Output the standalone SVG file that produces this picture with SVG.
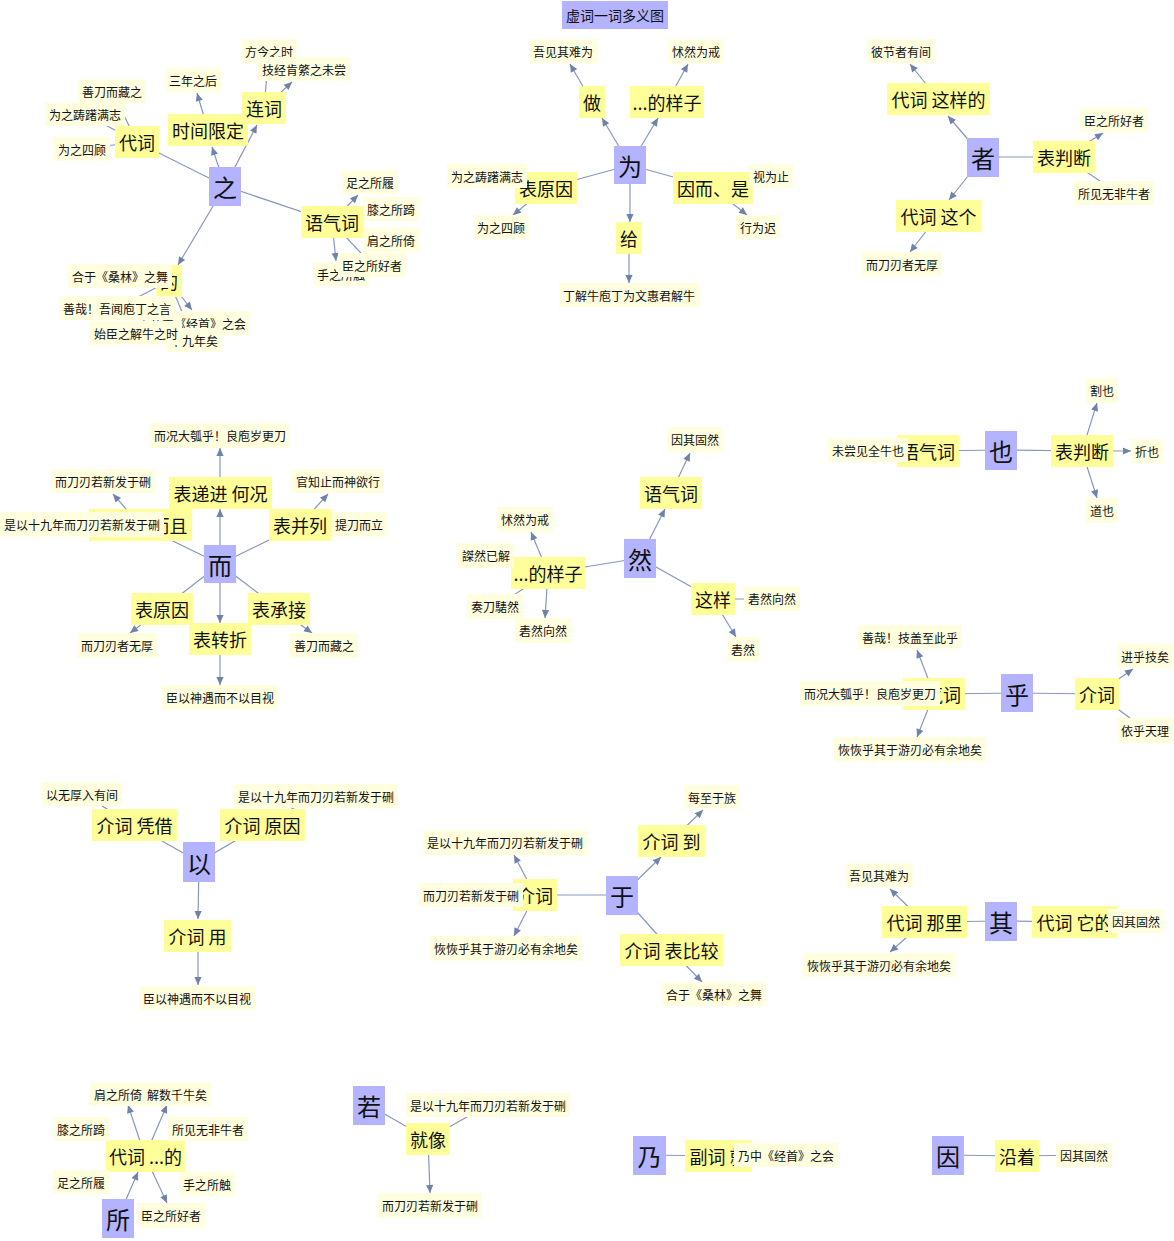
<svg xmlns="http://www.w3.org/2000/svg" width="1174" height="1241" viewBox="0 0 1174 1241">
<style>
text{font-family:"Noto Sans CJK SC","Noto Sans",sans-serif;fill:#111;text-anchor:middle;dominant-baseline:central}
.r rect,.t rect{fill:#b3b3ff}
.r text{font-size:24px}
.t text{font-size:14px}
.m rect{fill:#ffff99}
.m text{font-size:18px}
.l rect{fill:#ffffe0}
.l text{font-size:12px}
#edges line{stroke:#8797bd;stroke-width:1.2}
#edges .a{marker-end:url(#ar)}
</style>
<defs><marker id="ar" viewBox="0 0 10 10" refX="10" refY="5" markerWidth="9" markerHeight="8" markerUnits="userSpaceOnUse" orient="auto"><path d="M0,0.5L10,5L0,9.5z" fill="#6f82a8"/></marker></defs>
<rect width="1174" height="1241" fill="#fff"/>
<g id="edges">
<line x1="225" y1="186" x2="137" y2="142"/>
<line class="a" x1="225" y1="186" x2="212" y2="147"/>
<line class="a" x1="225" y1="186" x2="257" y2="125"/>
<line x1="225" y1="186" x2="332" y2="222"/>
<line class="a" x1="225" y1="186" x2="178" y2="265"/>
<line x1="264" y1="108" x2="269" y2="51"/>
<line class="a" x1="264" y1="108" x2="292" y2="82"/>
<line class="a" x1="208" y1="130" x2="197" y2="93"/>
<line x1="137" y1="142" x2="112" y2="91"/>
<line x1="137" y1="142" x2="85" y2="114"/>
<line x1="137" y1="142" x2="82" y2="149"/>
<line class="a" x1="332" y1="222" x2="358" y2="195"/>
<line x1="332" y1="222" x2="391" y2="209"/>
<line x1="332" y1="222" x2="391" y2="240"/>
<line x1="332" y1="222" x2="372" y2="265"/>
<line class="a" x1="332" y1="222" x2="336" y2="261"/>
<line x1="169" y1="281" x2="120" y2="276"/>
<line x1="169" y1="281" x2="117" y2="308"/>
<line x1="169" y1="281" x2="136" y2="333"/>
<line class="a" x1="169" y1="281" x2="192" y2="310"/>
<line x1="169" y1="281" x2="194" y2="340"/>

<line class="a" x1="630" y1="165" x2="602" y2="118"/>
<line class="a" x1="630" y1="165" x2="658" y2="118"/>
<line x1="630" y1="165" x2="546" y2="188"/>
<line x1="630" y1="165" x2="713" y2="188"/>
<line class="a" x1="630" y1="165" x2="630" y2="222"/>
<line class="a" x1="592" y1="102" x2="570" y2="64"/>
<line class="a" x1="667" y1="102" x2="688" y2="64"/>
<line x1="546" y1="188" x2="487" y2="176"/>
<line class="a" x1="546" y1="188" x2="513" y2="215"/>
<line x1="713" y1="188" x2="771" y2="176"/>
<line class="a" x1="713" y1="188" x2="747" y2="215"/>
<line class="a" x1="629" y1="238" x2="629" y2="283"/>

<line class="a" x1="983" y1="157" x2="948" y2="116"/>
<line x1="983" y1="157" x2="1064" y2="157"/>
<line class="a" x1="983" y1="157" x2="949" y2="200"/>
<line class="a" x1="938" y1="99" x2="910" y2="64"/>
<line class="a" x1="1064" y1="157" x2="1103" y2="133"/>
<line x1="1064" y1="157" x2="1100" y2="181"/>
<line class="a" x1="938" y1="216" x2="910" y2="252"/>

<line class="a" x1="220" y1="564" x2="220" y2="509"/>
<line class="a" x1="220" y1="493" x2="220" y2="448"/>
<line x1="220" y1="564" x2="140" y2="525"/>
<line class="a" x1="140" y1="525" x2="113" y2="494"/>
<line x1="140" y1="525" x2="82" y2="524"/>
<line x1="220" y1="564" x2="300" y2="525"/>
<line class="a" x1="300" y1="525" x2="328" y2="494"/>
<line x1="300" y1="525" x2="359" y2="524"/>
<line x1="220" y1="564" x2="162" y2="609"/>
<line class="a" x1="162" y1="609" x2="130" y2="633"/>
<line x1="220" y1="564" x2="279" y2="609"/>
<line class="a" x1="279" y1="609" x2="312" y2="633"/>
<line class="a" x1="220" y1="564" x2="220" y2="623"/>
<line class="a" x1="220" y1="639" x2="220" y2="685"/>

<line class="a" x1="640" y1="558" x2="665" y2="509"/>
<line class="a" x1="671" y1="493" x2="690" y2="453"/>
<line x1="640" y1="558" x2="548" y2="573"/>
<line class="a" x1="548" y1="573" x2="531" y2="532"/>
<line x1="548" y1="573" x2="486" y2="556"/>
<line x1="548" y1="573" x2="495" y2="607"/>
<line class="a" x1="548" y1="573" x2="545" y2="618"/>
<line x1="640" y1="558" x2="713" y2="599"/>
<line x1="713" y1="599" x2="772" y2="599"/>
<line class="a" x1="713" y1="599" x2="736" y2="637"/>

<line x1="1001" y1="450" x2="928" y2="451"/>
<line x1="1001" y1="450" x2="1082" y2="451"/>
<line x1="928" y1="451" x2="868" y2="450"/>
<line class="a" x1="1082" y1="451" x2="1097" y2="403"/>
<line class="a" x1="1082" y1="451" x2="1131" y2="451"/>
<line class="a" x1="1082" y1="451" x2="1097" y2="498"/>

<line x1="1017" y1="693" x2="934" y2="694"/>
<line x1="1017" y1="693" x2="1097" y2="694"/>
<line class="a" x1="934" y1="694" x2="917" y2="650"/>
<line class="a" x1="934" y1="694" x2="917" y2="737"/>
<line x1="934" y1="694" x2="870" y2="693"/>
<line class="a" x1="1097" y1="694" x2="1133" y2="669"/>
<line x1="1097" y1="694" x2="1130" y2="718"/>

<line x1="199" y1="862" x2="134" y2="825"/>
<line x1="199" y1="862" x2="262" y2="825"/>
<line x1="134" y1="825" x2="82" y2="794"/>
<line x1="262" y1="825" x2="316" y2="796"/>
<line class="a" x1="199" y1="862" x2="198" y2="919"/>
<line class="a" x1="198" y1="936" x2="198" y2="985"/>

<line x1="622" y1="895" x2="535" y2="895"/>
<line x1="535" y1="895" x2="471" y2="895"/>
<line class="a" x1="535" y1="895" x2="514" y2="855"/>
<line class="a" x1="535" y1="895" x2="514" y2="936"/>
<line class="a" x1="622" y1="895" x2="661" y2="857"/>
<line class="a" x1="671" y1="841" x2="703" y2="810"/>
<line x1="622" y1="895" x2="671" y2="950"/>
<line class="a" x1="671" y1="950" x2="702" y2="982"/>

<line x1="1001" y1="921" x2="924" y2="922"/>
<line x1="1001" y1="921" x2="1074" y2="922"/>
<line x1="1074" y1="922" x2="1136" y2="921"/>
<line class="a" x1="924" y1="922" x2="890" y2="889"/>
<line class="a" x1="924" y1="922" x2="890" y2="952"/>

<line class="a" x1="118" y1="1218" x2="138" y2="1172"/>
<line class="a" x1="145" y1="1156" x2="128" y2="1105"/>
<line class="a" x1="145" y1="1156" x2="167" y2="1105"/>
<line class="a" x1="145" y1="1156" x2="167" y2="1203"/>
<line x1="145" y1="1156" x2="81" y2="1129"/>
<line x1="145" y1="1156" x2="208" y2="1129"/>
<line x1="145" y1="1156" x2="81" y2="1182"/>
<line x1="145" y1="1156" x2="207" y2="1184"/>

<line x1="369" y1="1105" x2="428" y2="1139"/>
<line x1="428" y1="1139" x2="488" y2="1105"/>
<line class="a" x1="428" y1="1139" x2="430" y2="1193"/>

<line x1="649" y1="1155" x2="718" y2="1156"/>
<line x1="718" y1="1156" x2="786" y2="1155"/>
<line x1="948" y1="1155" x2="1017" y2="1156"/>
<line x1="1017" y1="1156" x2="1084" y2="1155"/>
</g>

<g id="nodes">
<g id="title" class="t"><rect x="562" y="1" width="106" height="28"/><text x="615" y="15">虚词一词多义图</text></g>

<!-- roots -->
<g id="r-zhi" class="r"><rect x="209" y="167" width="32" height="39"/><text x="225" y="186.5">之</text></g>
<g id="r-wei" class="r"><rect x="614" y="146" width="32" height="38"/><text x="630" y="165">为</text></g>
<g id="r-zhe" class="r"><rect x="967" y="138" width="32" height="39"/><text x="983" y="157.5">者</text></g>
<g id="r-er" class="r"><rect x="204" y="545" width="32" height="38"/><text x="220" y="564">而</text></g>
<g id="r-ran" class="r"><rect x="624" y="539" width="32" height="39"/><text x="640" y="558.5">然</text></g>
<g id="r-ye" class="r"><rect x="985" y="431" width="32" height="39"/><text x="1001" y="450.5">也</text></g>
<g id="r-hu" class="r"><rect x="1001" y="674" width="32" height="38"/><text x="1017" y="693">乎</text></g>
<g id="r-yi" class="r"><rect x="183" y="842" width="32" height="40"/><text x="199" y="862">以</text></g>
<g id="r-yu" class="r"><rect x="606" y="876" width="32" height="39"/><text x="622" y="895.5">于</text></g>
<g id="r-qi" class="r"><rect x="985" y="902" width="32" height="39"/><text x="1001" y="921.5">其</text></g>
<g id="r-suo" class="r"><rect x="102" y="1199" width="32" height="39"/><text x="118" y="1218.5">所</text></g>
<g id="r-ruo" class="r"><rect x="353" y="1086" width="32" height="39"/><text x="369" y="1105.5">若</text></g>
<g id="r-nai" class="r"><rect x="633" y="1136" width="33" height="39"/><text x="649.5" y="1155.5">乃</text></g>
<g id="r-yin" class="r"><rect x="932" y="1136" width="32" height="39"/><text x="948" y="1155.5">因</text></g>

<!-- mids -->
<g id="m-zhi-1" class="m"><rect x="115" y="126" width="44" height="32"/><text x="137" y="142">代词</text></g>
<g id="m-zhi-2" class="m"><rect x="168" y="114" width="80" height="32"/><text x="208" y="130">时间限定</text></g>
<g id="m-zhi-3" class="m"><rect x="242" y="92" width="44" height="32"/><text x="264" y="108">连词</text></g>
<g id="m-zhi-4" class="m"><rect x="301" y="206" width="62" height="32"/><text x="332" y="222">语气词</text></g>
<g id="m-zhi-5" class="m"><rect x="156" y="265" width="26" height="32"/><text x="169" y="281">的</text></g>

<g id="m-wei-1" class="m"><rect x="579" y="86" width="26" height="32"/><text x="592" y="102">做</text></g>
<g id="m-wei-2" class="m"><rect x="630" y="86" width="74" height="32"/><text x="667" y="102">...的样子</text></g>
<g id="m-wei-3" class="m"><rect x="515" y="172" width="62" height="32"/><text x="546" y="188">表原因</text></g>
<g id="m-wei-4" class="m"><rect x="673" y="172" width="80" height="32"/><text x="713" y="188">因而、是</text></g>
<g id="m-wei-5" class="m"><rect x="616" y="222" width="26" height="32"/><text x="629" y="238">给</text></g>

<g id="m-zhe-1" class="m"><rect x="887" y="83" width="103" height="32"/><text x="938.5" y="99">代词 这样的</text></g>
<g id="m-zhe-2" class="m"><rect x="1033" y="141" width="62" height="32"/><text x="1064" y="157">表判断</text></g>
<g id="m-zhe-3" class="m"><rect x="896" y="200" width="85" height="32"/><text x="938.5" y="216">代词 这个</text></g>

<g id="m-er-1" class="m"><rect x="169" y="477" width="103" height="32"/><text x="220.5" y="493">表递进 何况</text></g>
<g id="m-er-2" class="m"><rect x="89" y="509" width="103" height="32"/><text x="140.5" y="525">表递进 而且</text></g>
<g id="m-er-3" class="m"><rect x="269" y="509" width="62" height="32"/><text x="300" y="525">表并列</text></g>
<g id="m-er-4" class="m"><rect x="131" y="593" width="62" height="32"/><text x="162" y="609">表原因</text></g>
<g id="m-er-5" class="m"><rect x="248" y="593" width="62" height="32"/><text x="279" y="609">表承接</text></g>
<g id="m-er-6" class="m"><rect x="189" y="623" width="62" height="32"/><text x="220" y="639">表转折</text></g>

<g id="m-ran-1" class="m"><rect x="640" y="477" width="62" height="32"/><text x="671" y="493">语气词</text></g>
<g id="m-ran-2" class="m"><rect x="511" y="557" width="74" height="32"/><text x="548" y="573">...的样子</text></g>
<g id="m-ran-3" class="m"><rect x="691" y="583" width="44" height="32"/><text x="713" y="599">这样</text></g>

<g id="m-ye-1" class="m"><rect x="897" y="435" width="62" height="32"/><text x="928" y="451">语气词</text></g>
<g id="m-ye-2" class="m"><rect x="1051" y="435" width="62" height="32"/><text x="1082" y="451">表判断</text></g>

<g id="m-hu-1" class="m"><rect x="903" y="678" width="62" height="32"/><text x="934" y="694">语气词</text></g>
<g id="m-hu-2" class="m"><rect x="1075" y="678" width="44" height="32"/><text x="1097" y="694">介词</text></g>

<g id="m-yi-1" class="m"><rect x="92" y="809" width="85" height="32"/><text x="134.5" y="825">介词 凭借</text></g>
<g id="m-yi-2" class="m"><rect x="220" y="809" width="85" height="32"/><text x="262.5" y="825">介词 原因</text></g>
<g id="m-yi-3" class="m"><rect x="164" y="920" width="67" height="32"/><text x="197.5" y="936">介词 用</text></g>

<g id="m-yu-1" class="m"><rect x="513" y="879" width="44" height="32"/><text x="535" y="895">介词</text></g>
<g id="m-yu-2" class="m"><rect x="638" y="825" width="67" height="32"/><text x="671.5" y="841">介词 到</text></g>
<g id="m-yu-3" class="m"><rect x="620" y="934" width="103" height="32"/><text x="671.5" y="950">介词 表比较</text></g>

<g id="m-qi-1" class="m"><rect x="882" y="906" width="85" height="32"/><text x="924.5" y="922">代词 那里</text></g>
<g id="m-qi-2" class="m"><rect x="1032" y="906" width="85" height="32"/><text x="1074.5" y="922">代词 它的</text></g>

<g id="m-suo-1" class="m"><rect x="106" y="1140" width="79" height="32"/><text x="145.5" y="1156">代词 ...的</text></g>
<g id="m-ruo-1" class="m"><rect x="406" y="1123" width="44" height="32"/><text x="428" y="1139">就像</text></g>
<g id="m-nai-1" class="m"><rect x="685" y="1140" width="67" height="32"/><text x="718.5" y="1156">副词 就</text></g>
<g id="m-yin-1" class="m"><rect x="995" y="1140" width="44" height="32"/><text x="1017" y="1156">沿着</text></g>

<!-- leaves: 之 -->
<g id="l-zhi-1" class="l"><rect x="241" y="39" width="56" height="24"/><text x="269" y="51">方今之时</text></g>
<g id="l-zhi-2" class="l"><rect x="258" y="57" width="92" height="24"/><text x="304" y="69">技经肯綮之未尝</text></g>
<g id="l-zhi-3" class="l"><rect x="165" y="68" width="56" height="24"/><text x="193" y="80">三年之后</text></g>
<g id="l-zhi-4" class="l"><rect x="78" y="79" width="68" height="24"/><text x="112" y="91">善刀而藏之</text></g>
<g id="l-zhi-5" class="l"><rect x="45" y="102" width="80" height="24"/><text x="85" y="114">为之踌躇满志</text></g>
<g id="l-zhi-6" class="l"><rect x="54" y="137" width="56" height="24"/><text x="82" y="149">为之四顾</text></g>
<g id="l-zhi-7" class="l"><rect x="342" y="170" width="56" height="24"/><text x="370" y="182">足之所履</text></g>
<g id="l-zhi-8" class="l"><rect x="363" y="197" width="56" height="24"/><text x="391" y="209">膝之所踦</text></g>
<g id="l-zhi-9" class="l"><rect x="363" y="228" width="56" height="24"/><text x="391" y="240">肩之所倚</text></g>
<g id="l-zhi-10" class="l"><rect x="313" y="262" width="56" height="24"/><text x="341" y="274">手之所触</text></g>
<g id="l-zhi-11" class="l"><rect x="338" y="253" width="68" height="24"/><text x="372" y="265">臣之所好者</text></g>
<g id="l-zhi-12" class="l"><rect x="68" y="264" width="104" height="24"/><text x="120" y="276">合于《桑林》之舞</text></g>
<g id="l-zhi-13" class="l"><rect x="146" y="311" width="104" height="24"/><text x="198" y="323">乃中《经首》之会</text></g>
<g id="l-zhi-14" class="l"><rect x="166" y="328" width="56" height="24"/><text x="194" y="340">十九年矣</text></g>
<g id="l-zhi-15" class="l"><rect x="59" y="296" width="116" height="24"/><text x="117" y="308">善哉！吾闻庖丁之言</text></g>
<g id="l-zhi-16" class="l"><rect x="90" y="321" width="92" height="24"/><text x="136" y="333">始臣之解牛之时</text></g>

<!-- leaves: 为 -->
<g id="l-wei-1" class="l"><rect x="529" y="39" width="68" height="24"/><text x="563" y="51">吾见其难为</text></g>
<g id="l-wei-2" class="l"><rect x="668" y="39" width="56" height="24"/><text x="696" y="51">怵然为戒</text></g>
<g id="l-wei-3" class="l"><rect x="447" y="164" width="80" height="24"/><text x="487" y="176">为之踌躇满志</text></g>
<g id="l-wei-4" class="l"><rect x="473" y="215" width="56" height="24"/><text x="501" y="227">为之四顾</text></g>
<g id="l-wei-5" class="l"><rect x="749" y="164" width="44" height="24"/><text x="771" y="176">视为止</text></g>
<g id="l-wei-6" class="l"><rect x="736" y="215" width="44" height="24"/><text x="758" y="227">行为迟</text></g>
<g id="l-wei-7" class="l"><rect x="559" y="283" width="140" height="24"/><text x="629" y="295">丁解牛庖丁为文惠君解牛</text></g>

<!-- leaves: 者 -->
<g id="l-zhe-1" class="l"><rect x="867" y="39" width="68" height="24"/><text x="901" y="51">彼节者有间</text></g>
<g id="l-zhe-2" class="l"><rect x="1080" y="108" width="68" height="24"/><text x="1114" y="120">臣之所好者</text></g>
<g id="l-zhe-3" class="l"><rect x="1074" y="181" width="80" height="24"/><text x="1114" y="193">所见无非牛者</text></g>
<g id="l-zhe-4" class="l"><rect x="862" y="252" width="80" height="24"/><text x="902" y="264">而刀刃者无厚</text></g>

<!-- leaves: 而 -->
<g id="l-er-1" class="l"><rect x="150" y="423" width="140" height="25"/><text x="220" y="435.5">而况大瓠乎！良庖岁更刀</text></g>
<g id="l-er-2" class="l"><rect x="51" y="469" width="104" height="24"/><text x="103" y="481">而刀刃若新发于硎</text></g>
<g id="l-er-3" class="l"><rect x="292" y="469" width="92" height="24"/><text x="338" y="481">官知止而神欲行</text></g>
<g id="l-er-4" class="l"><rect x="0" y="512" width="164" height="25"/><text x="82" y="524.5">是以十九年而刀刃若新发于硎</text></g>
<g id="l-er-5" class="l"><rect x="331" y="512" width="56" height="25"/><text x="359" y="524.5">提刀而立</text></g>
<g id="l-er-6" class="l"><rect x="77" y="633" width="80" height="25"/><text x="117" y="645.5">而刀刃者无厚</text></g>
<g id="l-er-7" class="l"><rect x="290" y="633" width="68" height="25"/><text x="324" y="645.5">善刀而藏之</text></g>
<g id="l-er-8" class="l"><rect x="162" y="685" width="116" height="25"/><text x="220" y="697.5">臣以神遇而不以目视</text></g>

<!-- leaves: 然 -->
<g id="l-ran-1" class="l"><rect x="667" y="427" width="56" height="25"/><text x="695" y="439.5">因其固然</text></g>
<g id="l-ran-2" class="l"><rect x="497" y="507" width="56" height="25"/><text x="525" y="519.5">怵然为戒</text></g>
<g id="l-ran-3" class="l"><rect x="458" y="543" width="56" height="25"/><text x="486" y="555.5">謋然已解</text></g>
<g id="l-ran-4" class="l"><rect x="467" y="594" width="56" height="25"/><text x="495" y="606.5">奏刀騞然</text></g>
<g id="l-ran-5" class="l"><rect x="515" y="618" width="56" height="25"/><text x="543" y="630.5">砉然向然</text></g>
<g id="l-ran-6" class="l"><rect x="744" y="586" width="56" height="25"/><text x="772" y="598.5">砉然向然</text></g>
<g id="l-ran-7" class="l"><rect x="727" y="637" width="32" height="25"/><text x="743" y="649.5">砉然</text></g>

<!-- leaves: 也 -->
<g id="l-ye-1" class="l"><rect x="828" y="438" width="80" height="24"/><text x="868" y="450">未尝见全牛也</text></g>
<g id="l-ye-2" class="l"><rect x="1086" y="378" width="32" height="25"/><text x="1102" y="390.5">割也</text></g>
<g id="l-ye-3" class="l"><rect x="1131" y="439" width="32" height="24"/><text x="1147" y="451">折也</text></g>
<g id="l-ye-4" class="l"><rect x="1086" y="498" width="32" height="25"/><text x="1102" y="510.5">道也</text></g>

<!-- leaves: 乎 -->
<g id="l-hu-1" class="l"><rect x="800" y="681" width="140" height="25"/><text x="870" y="693.5">而况大瓠乎！良庖岁更刀</text></g>
<g id="l-hu-2" class="l"><rect x="858" y="625" width="104" height="24"/><text x="910" y="637">善哉！技盖至此乎</text></g>
<g id="l-hu-3" class="l"><rect x="834" y="737" width="152" height="25"/><text x="910" y="749.5">恢恢乎其于游刃必有余地矣</text></g>
<g id="l-hu-4" class="l"><rect x="1117" y="644" width="56" height="24"/><text x="1145" y="656">进乎技矣</text></g>
<g id="l-hu-5" class="l"><rect x="1117" y="718" width="56" height="25"/><text x="1145" y="730.5">依乎天理</text></g>

<!-- leaves: 以 -->
<g id="l-yi-1" class="l"><rect x="42" y="782" width="80" height="24"/><text x="82" y="794">以无厚入有间</text></g>
<g id="l-yi-2" class="l"><rect x="234" y="784" width="164" height="24"/><text x="316" y="796">是以十九年而刀刃若新发于硎</text></g>
<g id="l-yi-3" class="l"><rect x="139" y="986" width="116" height="24"/><text x="197" y="998">臣以神遇而不以目视</text></g>

<!-- leaves: 于 -->
<g id="l-yu-1" class="l"><rect x="419" y="883" width="104" height="24"/><text x="471" y="895">而刀刃若新发于硎</text></g>
<g id="l-yu-2" class="l"><rect x="423" y="830" width="164" height="25"/><text x="505" y="842.5">是以十九年而刀刃若新发于硎</text></g>
<g id="l-yu-3" class="l"><rect x="430" y="936" width="152" height="25"/><text x="506" y="948.5">恢恢乎其于游刃必有余地矣</text></g>
<g id="l-yu-4" class="l"><rect x="684" y="785" width="56" height="24"/><text x="712" y="797">每至于族</text></g>
<g id="l-yu-5" class="l"><rect x="662" y="982" width="104" height="24"/><text x="714" y="994">合于《桑林》之舞</text></g>

<!-- leaves: 其 -->
<g id="l-qi-1" class="l"><rect x="1108" y="909" width="56" height="24"/><text x="1136" y="921">因其固然</text></g>
<g id="l-qi-2" class="l"><rect x="845" y="863" width="68" height="24"/><text x="879" y="875">吾见其难为</text></g>
<g id="l-qi-3" class="l"><rect x="803" y="953" width="152" height="24"/><text x="879" y="965">恢恢乎其于游刃必有余地矣</text></g>

<!-- leaves: 所 -->
<g id="l-suo-1" class="l"><rect x="90" y="1082" width="56" height="24"/><text x="118" y="1094">肩之所倚</text></g>
<g id="l-suo-2" class="l"><rect x="143" y="1082" width="68" height="24"/><text x="177" y="1094">解数千牛矣</text></g>
<g id="l-suo-3" class="l"><rect x="53" y="1117" width="56" height="24"/><text x="81" y="1129">膝之所踦</text></g>
<g id="l-suo-4" class="l"><rect x="168" y="1117" width="80" height="24"/><text x="208" y="1129">所见无非牛者</text></g>
<g id="l-suo-5" class="l"><rect x="53" y="1170" width="56" height="24"/><text x="81" y="1182">足之所履</text></g>
<g id="l-suo-6" class="l"><rect x="179" y="1172" width="56" height="24"/><text x="207" y="1184">手之所触</text></g>
<g id="l-suo-7" class="l"><rect x="137" y="1203" width="68" height="25"/><text x="171" y="1215.5">臣之所好者</text></g>

<!-- leaves: 若 乃 因 -->
<g id="l-ruo-1" class="l"><rect x="406" y="1093" width="164" height="24"/><text x="488" y="1105">是以十九年而刀刃若新发于硎</text></g>
<g id="l-ruo-2" class="l"><rect x="378" y="1193" width="104" height="25"/><text x="430" y="1205.5">而刀刃若新发于硎</text></g>
<g id="l-nai-1" class="l"><rect x="734" y="1143" width="104" height="24"/><text x="786" y="1155">乃中《经首》之会</text></g>
<g id="l-yin-1" class="l"><rect x="1056" y="1143" width="56" height="24"/><text x="1084" y="1155">因其固然</text></g>
</g>
</svg>
